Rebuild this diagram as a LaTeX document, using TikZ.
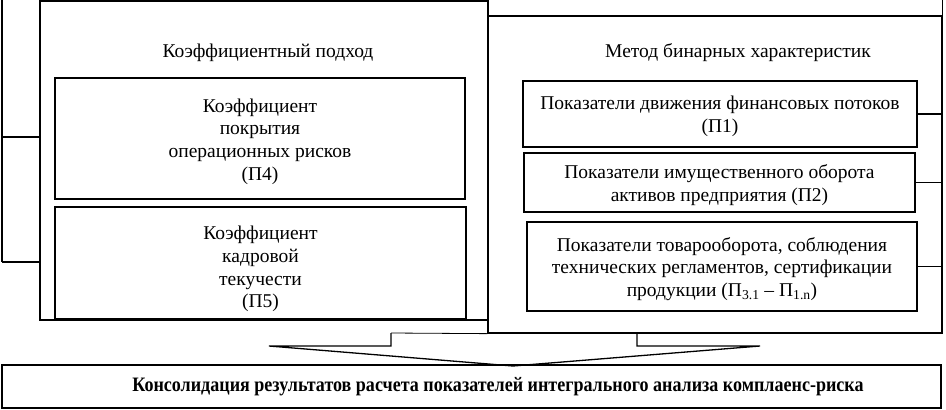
\documentclass[tikz,border=0pt]{standalone}
\usepackage{fontspec}
\setmainfont{Liberation Serif}
\begin{document}
\begin{tikzpicture}[x=1pt,y=-1pt,
  box/.style={draw, line width=1.3pt, inner sep=0pt},
  lbl/.style={inner sep=0pt, align=center, font=\fontsize{19.5}{22.7}\selectfont},
  wire/.style={line width=1.3pt}]
\useasboundingbox (0,0) rectangle (946,410);
% outer boxes
\node[box, minimum width=448pt, minimum height=319pt] (L) at (264,160.5) {};
\node[box, minimum width=454pt, minimum height=317pt] (R) at (715,174.5) {};
\node[lbl] (Lt) at (268,53) {Коэффициентный подход};
\node[lbl] (Rt) at (738,53) {Метод бинарных характеристик};
% left inner boxes
\node[box, minimum width=410pt, minimum height=121pt] (P4) at (260,138.5) {};
\node[lbl] (P4t) at ([yshift=-3pt]P4.center)
  {Коэффициент\\покрытия\\операционных рисков\\(П4)};
\node[box, minimum width=411pt, minimum height=112pt] (P5) at (260.5,263) {};
\node[lbl] (P5t) at ([yshift=-6pt]P5.center)
  {Коэффициент\\кадровой\\текучести\\(П5)};
% right inner boxes
\node[box, minimum width=394pt, minimum height=66pt] (P1) at (720,114) {};
\node[lbl] (P1t) at ([yshift=-2.5pt]P1.center)
  {Показатели движения финансовых потоков\\(П1)};
\node[box, minimum width=391pt, minimum height=59pt] (P2) at (719.5,182.5) {};
\node[lbl] (P2t) at ([yshift=-2.5pt]P2.center)
  {Показатели имущественного оборота\\активов предприятия (П2)};
\node[box, minimum width=390pt, minimum height=89pt] (P3) at (722,266.5) {};
\node[lbl] (P3t) at ([yshift=-2.5pt]P3.center)
  {Показатели товарооборота, соблюдения\\технических регламентов, сертификации\\продукции (П\textsubscript{3.1} – П\textsubscript{1.n})};
% bottom box
\node[box, minimum width=939pt, minimum height=43pt] (B) at (471.5,386.5) {};
\node[lbl, font=\fontsize{20.5}{24}\selectfont\bfseries] (Bt) at (498,386.5)
  {\scalebox{0.88}[1]{Консолидация результатов расчета показателей интегрального анализа комплаенс-риска}};
% left bracket
\coordinate (la) at (2,0);
\coordinate (lb) at (2,137);
\coordinate (lc) at (2,262);
\draw[wire] (la) -- (lc);
\draw[wire] (lb) -- (lb -| L.west);
\draw[wire] (lc) -- (lc -| L.west);
% right bracket
\coordinate (ra) at (R.east |- la);
\draw[wire] (ra) -- (R.south east);
\draw[wire] (P1.east) -- (P1.east -| R.east);
\draw[wire] (P2.east) -- (P2.east -| R.east);
\draw[wire] (P3.east) -- (P3.east -| R.east);
% block arrow
\draw[wire, line join=miter] (391,333) -- (391,346) -- (269,346) -- (513,366)
  -- (760,346) -- (637,346) -- (637,333);
\draw[line width=0.8pt] (391,333) -- (R.south west);
\end{tikzpicture}
\end{document}
